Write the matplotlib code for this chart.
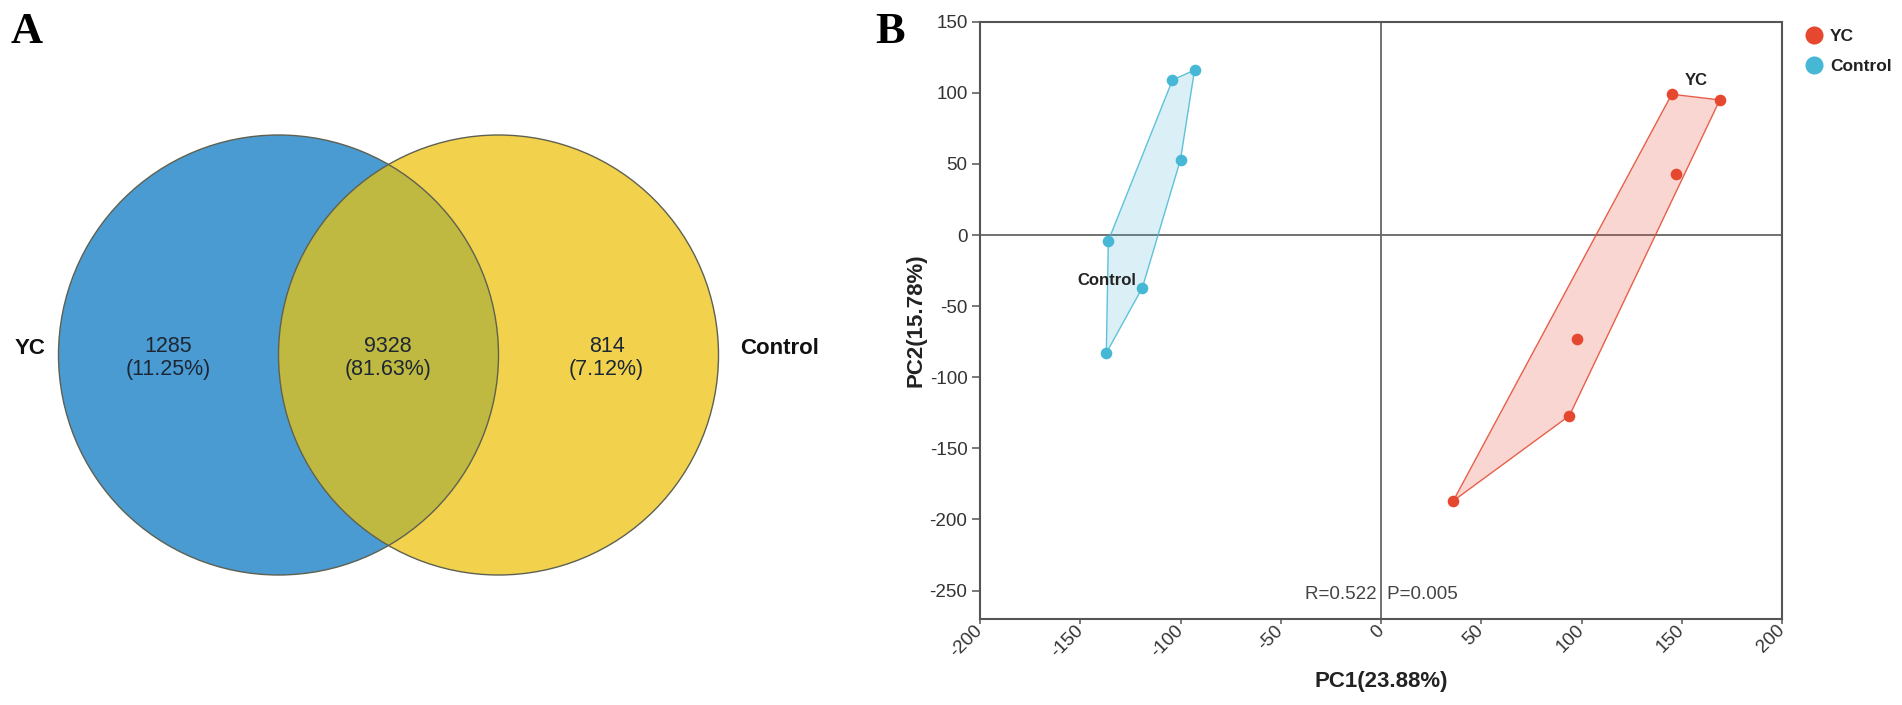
import numpy as np
import matplotlib
matplotlib.use("Agg")
import matplotlib.pyplot as plt
from matplotlib.patches import Circle, Polygon
from matplotlib.lines import Line2D

plt.rcParams['font.family'] = ['Liberation Sans', 'DejaVu Sans']
plt.rcParams['axes.unicode_minus'] = False

# ---------------- data ----------------
venn_sets = ['YC', 'Control']
venn_counts = [1285, 9328, 814]          # YC only, shared, Control only

pca_groups = ['YC', 'Control']
yc_pc1 = [145, 169, 147, 98, 94, 36]
yc_pc2 = [99, 95, 43, -73, -127, -187]
ctrl_pc1 = [-104, -93, -100, -136, -119, -137]
ctrl_pc2 = [109, 116, 53, -4, -37, -83]
pc1_label = 'PC1(23.88%)'
pc2_label = 'PC2(15.78%)'
stat_text = 'R=0.522  P=0.005'
x_ticks = [-200, -150, -100, -50, 0, 50, 100, 150, 200]
y_ticks = [-250, -200, -150, -100, -50, 0, 50, 100, 150]

W, H = 1902, 705
fig = plt.figure(figsize=(W / 100, H / 100), dpi=100)

# ---------------- panel A: Venn ----------------
axA = fig.add_axes([0, 0, 900 / W, 1])
axA.set_xlim(0, 900)
axA.set_ylim(705, 0)
axA.set_aspect('equal')
axA.axis('off')

r = 220
cy = 355
c1 = (278.5, cy)
c2 = (498.5, cy)
blue = '#4B9BD3'
yellow = '#F2D24C'
olive = '#BFB841'
edge = '#5E6150'

axA.add_patch(Circle(c1, r, facecolor=blue, edgecolor='none', zorder=1))
axA.add_patch(Circle(c2, r, facecolor=yellow, edgecolor='none', zorder=1))
lens = Circle(c1, r, facecolor=olive, edgecolor='none', zorder=2)
axA.add_patch(lens)
clipc = Circle(c2, r, transform=axA.transData)
lens.set_clip_path(clipc)
axA.add_patch(Circle(c1, r, facecolor='none', edgecolor=edge, lw=1.0, zorder=3))
axA.add_patch(Circle(c2, r, facecolor='none', edgecolor=edge, lw=1.0, zorder=3))

total = sum(venn_counts)
region_x = [168, 388, 606.5]
for xx, cnt in zip(region_x, venn_counts):
    axA.text(xx, 358, f'{cnt}\n({cnt / total * 100:.2f}%)', ha='center', va='center',
             fontsize=15.5, color='#1c2733', linespacing=1.1, zorder=4)

axA.text(30, 348, venn_sets[0], ha='center', va='center', fontsize=16,
         fontweight='bold', color='#111')
axA.text(780, 348, venn_sets[1], ha='center', va='center', fontsize=16,
         fontweight='bold', color='#111')

fig.text(11 / W, 1 - 43 / H, 'A', fontsize=32, fontweight='bold',
         family='Liberation Serif', ha='left', va='baseline')
fig.text(875 / W, 1 - 43 / H, 'B', fontsize=32, fontweight='bold',
         family='Liberation Serif', ha='left', va='baseline')

# ---------------- panel B: PCA ----------------
top, bot = 21.7, 619
ax = fig.add_axes([980 / W, 1 - bot / H, 802 / W, (bot - top) / H])
ax.set_xlim(-200, 200)
ax.set_ylim(-270, 150)

red = '#E5472F'
cyan = '#46B8D5'


def hull(xs, ys):
    pts = sorted(set(zip(xs, ys)))

    def cross(o, a, b):
        return (a[0] - o[0]) * (b[1] - o[1]) - (a[1] - o[1]) * (b[0] - o[0])
    lower, upper = [], []
    for p in pts:
        while len(lower) >= 2 and cross(lower[-2], lower[-1], p) <= 0:
            lower.pop()
        lower.append(p)
    for p in reversed(pts):
        while len(upper) >= 2 and cross(upper[-2], upper[-1], p) <= 0:
            upper.pop()
        upper.append(p)
    return np.array(lower[:-1] + upper[:-1])


ax.axhline(0, color='#666', lw=1.3, zorder=1)
ax.axvline(0, color='#666', lw=1.3, zorder=1)

for xs, ys, col, fa in [(yc_pc1, yc_pc2, red, 0.22), (ctrl_pc1, ctrl_pc2, cyan, 0.2)]:
    h = hull(xs, ys)
    ax.add_patch(Polygon(h, closed=True, facecolor=col, alpha=fa, edgecolor='none', zorder=2))
    ax.add_patch(Polygon(h, closed=True, facecolor='none', edgecolor=col, lw=1.0, alpha=0.85, zorder=3))

ax.scatter(yc_pc1, yc_pc2, s=70, color=red, zorder=4, linewidths=0, label=pca_groups[0])
ax.scatter(ctrl_pc1, ctrl_pc2, s=70, color=cyan, zorder=4, linewidths=0, label=pca_groups[1])

ax.text(157, 109, pca_groups[0], ha='center', va='center', fontsize=12,
        fontweight='bold', color='#222')
ax.text(-137, -32, pca_groups[1], ha='center', va='center', fontsize=12,
        fontweight='bold', color='#222')
ax.text(0, -253, stat_text, ha='center', va='center', fontsize=13.5, color='#444')

ax.set_xticks(x_ticks)
ax.set_yticks(y_ticks)
ax.tick_params(direction='out', width=1.1, color='#555', labelsize=13.5,
               labelcolor='#333', pad=3)
ax.tick_params(axis='y', length=6)
ax.tick_params(axis='x', length=3.5)
for lab in ax.get_xticklabels():
    lab.set_rotation(45)
    lab.set_ha('right')
    lab.set_va('center')
    lab.set_rotation_mode('anchor')
for sp in ax.spines.values():
    sp.set_color('#555')
    sp.set_linewidth(1.5)

ax.set_xlabel(pc1_label, fontsize=16, fontweight='bold', color='#222')
ax.xaxis.label.set_va('center')
ax.xaxis.set_label_coords(0.5, (bot - 682) / (bot - top))
ax.set_ylabel(pc2_label, fontsize=16, fontweight='bold', color='#222')
ax.yaxis.label.set_va('center')
ax.yaxis.set_label_coords((916 - 980) / 802, 0.5)

leg = fig.legend(handles=[
    Line2D([], [], marker='o', ls='none', markersize=13, color=red, markeredgewidth=0),
    Line2D([], [], marker='o', ls='none', markersize=13, color=cyan, markeredgewidth=0)],
    labels=pca_groups, loc='upper left', bbox_to_anchor=(1805 / W, 1 - 29 / H),
    frameon=False, borderpad=0, borderaxespad=0, handlelength=1.0, handletextpad=0.45,
    labelspacing=0.85, prop={'weight': 'bold', 'size': 12.5})
for t in leg.get_texts():
    t.set_color('#222')

fig.savefig('out.png', dpi=100)
